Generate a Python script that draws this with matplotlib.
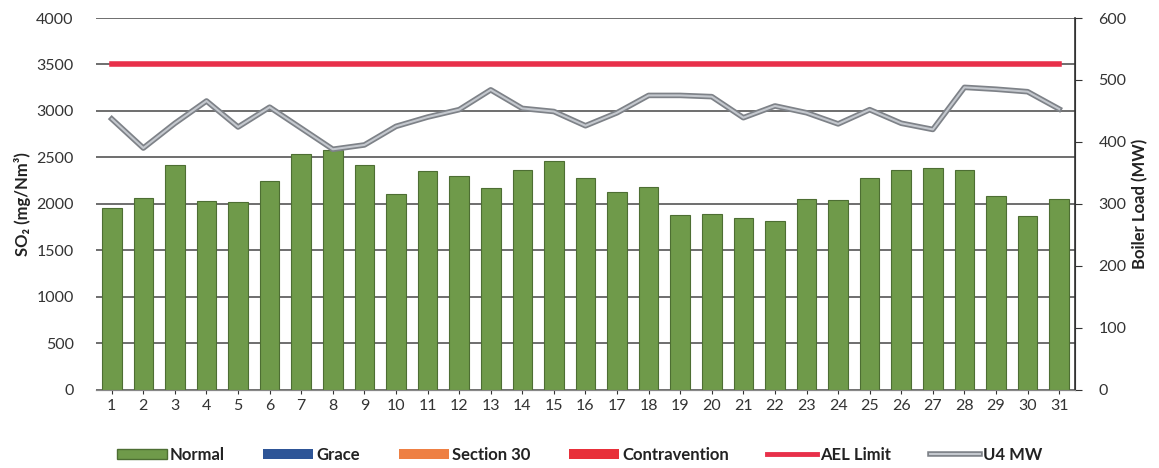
import matplotlib.pyplot as plt
import matplotlib.patheffects as pe
from matplotlib.patches import Patch
from matplotlib.lines import Line2D

plt.rcParams['font.family'] = ['Lato', 'DejaVu Sans']

days = list(range(1, 32))
so2 = [1955, 2062, 2422, 2033, 2015, 2242, 2537, 2576, 2422, 2109,
       2350, 2303, 2170, 2368, 2465, 2278, 2127, 2177, 1875, 1886,
       1847, 1818, 2052, 2044, 2278, 2360, 2386, 2368, 2087, 1871, 2052]
u4_mw = [437, 390, 430, 466, 424, 456, 422, 388, 395, 425,
         440, 452, 484, 454, 449, 426, 447, 475, 475, 473,
         439, 458, 447, 429, 452, 430, 420, 488, 485, 481, 453]
ael_limit = [3500] * 31

fig = plt.figure(figsize=(11.59, 4.68), dpi=100)
ax = fig.add_axes([0.0828, 0.1677, 0.8447, 0.7938])
ax2 = ax.twinx()

ax.bar(days, so2, width=0.62, color='#6f9a4a', edgecolor='#4d6e33', linewidth=0.8, zorder=3)
ax.plot(days, ael_limit, color='#e8304a', linewidth=4, zorder=4)

ax2.plot(days, u4_mw, color='#c4c8ce', linewidth=1.5, zorder=5,
         path_effects=[pe.Stroke(linewidth=4, foreground='#7e8288'), pe.Normal()])

ax.set_xlim(0.5, 31.5)
ax.set_ylim(0, 4000)
ax.set_yticks(range(0, 4001, 500))
ax2.set_ylim(0, 600)
ax2.set_yticks(range(0, 601, 100))
ax.set_xticks(days)

ax.yaxis.grid(True, color='#555555', linewidth=1.2, zorder=0)
ax.set_axisbelow(True)

for a in (ax, ax2):
    a.spines['top'].set_visible(False)
    a.spines['left'].set_visible(False)
    a.spines['right'].set_color('#333333')
    a.spines['bottom'].set_color('#888888')
ax2.spines['right'].set_linewidth(1.2)

ax.tick_params(axis='y', length=0, labelsize=11.5, pad=16, colors='#333333')
ax.tick_params(axis='x', length=3, labelsize=11.5, colors='#333333')
ax2.tick_params(axis='y', length=5, labelsize=11.5, pad=12, colors='#333333')

ax.set_ylabel('SO₂ (mg/Nm³)', fontsize=12, fontweight='bold', color='#222222')
ax2.set_ylabel('Boiler Load (MW)', fontsize=12, fontweight='bold', color='#222222')

handles = [
    Patch(facecolor='#6f9a4a', edgecolor='#4d6e33', label='Normal'),
    Patch(facecolor='#2e5597', label='Grace'),
    Patch(facecolor='#ee8044', label='Section 30'),
    Patch(facecolor='#e8303a', label='Contravention'),
    Line2D([], [], color='#e8304a', linewidth=3.5, label='AEL Limit'),
    Line2D([], [], color='#c4c8ce', linewidth=1.5, label='U4 MW',
           path_effects=[pe.Stroke(linewidth=4, foreground='#7e8288'), pe.Normal()]),
]
fig.legend(handles=handles, loc='center', bbox_to_anchor=(0.5, 0.028), ncol=6,
           frameon=False, prop={'size': 12, 'weight': 'bold'}, handlelength=3.0,
           handleheight=0.6, columnspacing=2.3, handletextpad=0.2, labelcolor='#222222')

fig.savefig('out.png', dpi=100)
